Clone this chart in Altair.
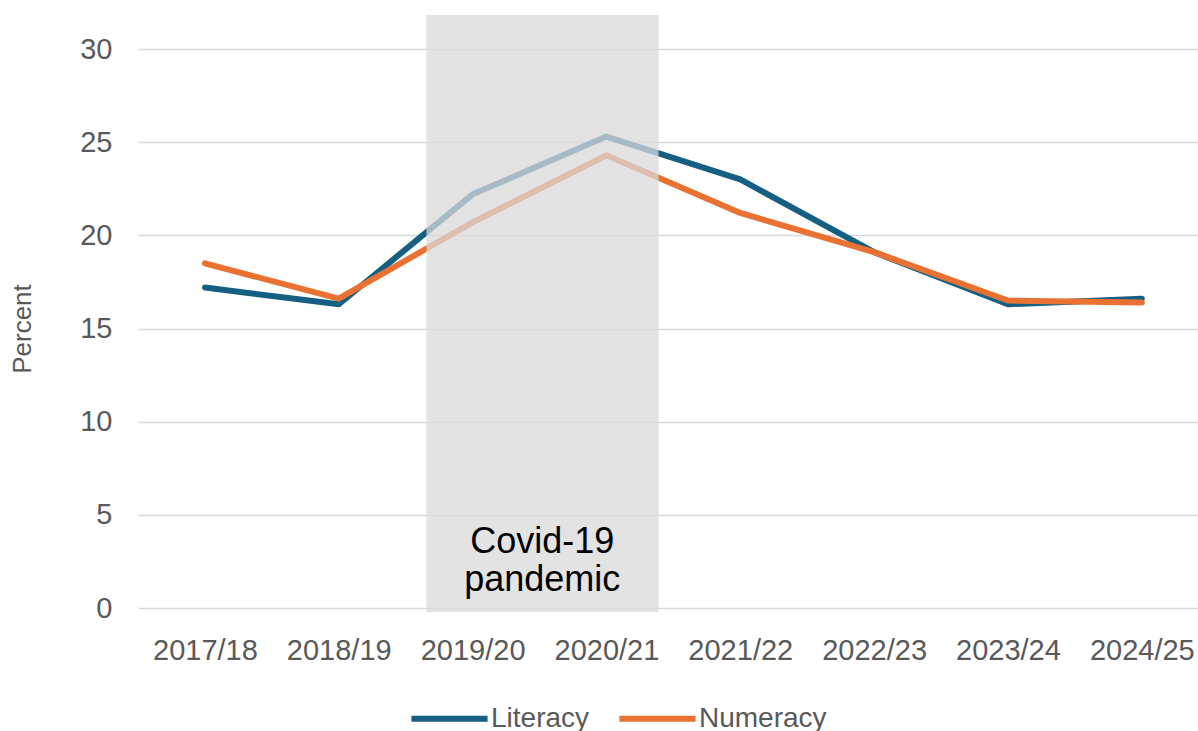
import json
import altair as alt
import pandas as pd

years = ["2017/18", "2018/19", "2019/20", "2020/21", "2021/22", "2022/23", "2023/24", "2024/25"]
literacy = [17.2, 16.3, 22.2, 25.3, 23.0, 19.1, 16.3, 16.6]
numeracy = [18.5, 16.6, 20.7, 24.3, 21.2, 19.1, 16.5, 16.4]
series_names = ["Literacy", "Numeracy"]
series_colors = ["#156082", "#E97132"]

# Covid-19 shaded period (in category-index units)
shade_start = [1.655]
shade_end = [3.39]
shade_low = [-0.21]
shade_high = [31.83]
annotation = ["Covid-19\npandemic"]
annotation_x = [2.52]
annotation_y = [3.52]

rows = []
for i, y in enumerate(years):
    rows.append({"idx": i, "year": y, "series": "Literacy", "value": literacy[i]})
    rows.append({"idx": i, "year": y, "series": "Numeracy", "value": numeracy[i]})
df = pd.DataFrame(rows)

shade_df = pd.DataFrame({"x1": shade_start, "x2": shade_end, "y1": shade_low, "y2": shade_high})
text_df = pd.DataFrame({"x": annotation_x, "y": annotation_y, "label": annotation})

FONT = "Liberation Sans"
GRAY = "#595959"

label_expr = json.dumps(years) + "[datum.value]"

x_scale = alt.Scale(domain=[-0.5, 7.42], nice=False, zero=False)
y_scale = alt.Scale(domain=[0, 30], nice=False)

x_axis = alt.Axis(
    values=list(range(len(years))), labelExpr=label_expr, title=None,
    domain=False, ticks=False, grid=False, labelFont=FONT, labelFontSize=29,
    labelColor=GRAY, labelPadding=28, labelFlush=False,
)
y_axis = alt.Axis(
    values=[0, 5, 10, 15, 20, 25, 30], title="Percent", domain=False, ticks=False,
    grid=True, gridColor="#D9D9D9", gridWidth=1.3, labelFont=FONT, labelFontSize=29,
    labelColor=GRAY, labelPadding=26, titleFont=FONT, titleFontSize=26,
    titleFontWeight="normal", titleColor=GRAY, titlePadding=44,
)

lines = alt.Chart(df).mark_line(strokeWidth=6, strokeJoin="round", strokeCap="round").encode(
    x=alt.X("idx:Q", scale=x_scale, axis=x_axis),
    y=alt.Y("value:Q", scale=y_scale, axis=y_axis),
    color=alt.Color(
        "series:N",
        scale=alt.Scale(domain=series_names, range=series_colors),
        legend=alt.Legend(
            title=None, orient="none", direction="horizontal", legendX=270, legendY=628,
            symbolType="stroke", symbolSize=5800, symbolStrokeWidth=6,
            labelFont=FONT, labelFontSize=28, labelColor=GRAY, labelOffset=0,
            columnPadding=17, padding=0,
        ),
    ),
    detail="series:N",
)

shade = alt.Chart(shade_df).mark_rect(color="#D9D9D9", opacity=0.75).encode(
    x="x1:Q", x2="x2:Q", y="y1:Q", y2="y2:Q",
)

text = alt.Chart(text_df).mark_text(
    font=FONT, fontSize=36, color="#000000", lineBreak="\n", lineHeight=38,
    align="center", baseline="middle",
).encode(x="x:Q", y="y:Q", text="label:N")

chart = alt.layer(lines, shade, text).properties(
    width=1060, height=559, background="white",
    padding={"left": 9, "top": 14, "right": 0, "bottom": 0},
).configure_view(stroke=None, strokeWidth=0)

chart.save("out.html", embed_options={"renderer": "svg", "actions": False})
